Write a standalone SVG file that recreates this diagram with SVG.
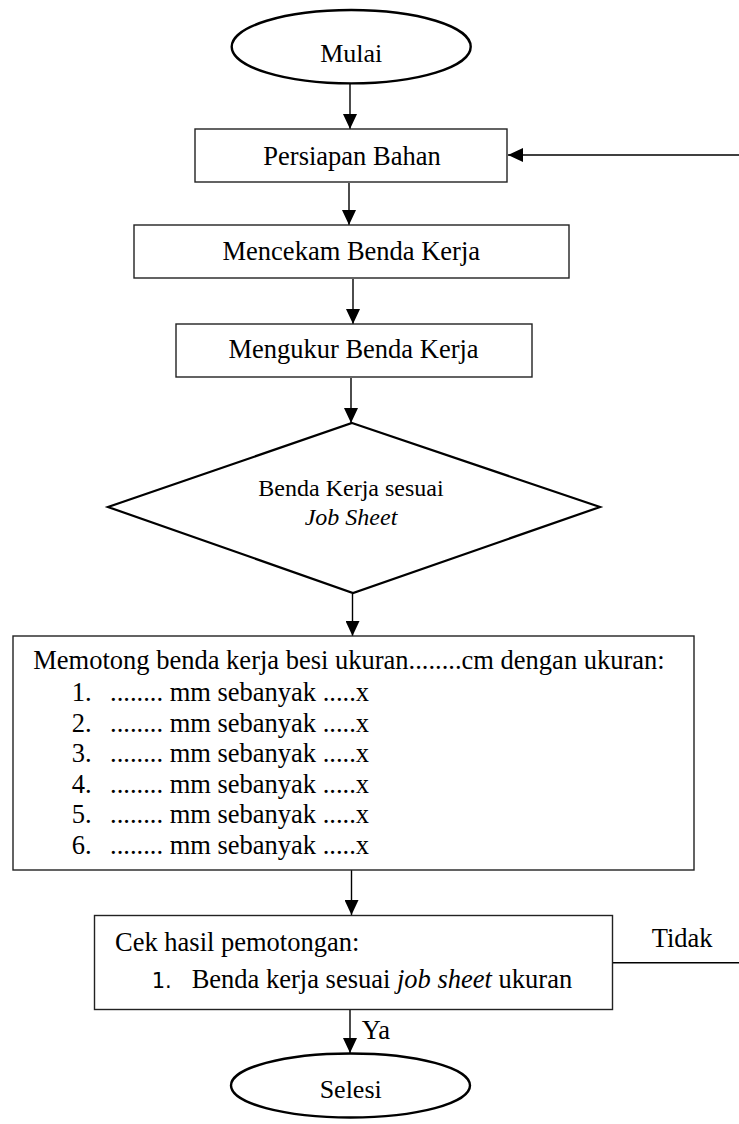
<svg xmlns="http://www.w3.org/2000/svg" width="739" height="1124" viewBox="0 0 739 1124">
<style>
  .t { font-family: "Liberation Serif", "Times New Roman", serif; font-size: 26.5px; fill: #000; }
  .c { text-anchor: middle; }
  .box { fill: #fff; stroke: #222; stroke-width: 1.4; }
  .term { fill: #fff; stroke: #000; stroke-width: 2.4; }
  .dec { fill: #fff; stroke: #000; stroke-width: 2.2; }
  .conn { fill: none; stroke: #000; stroke-width: 1.4; }
  .arr { marker-end: url(#ah); }
</style>
<defs>
  <marker id="ah" markerWidth="15" markerHeight="14" refX="15" refY="7" orient="auto" markerUnits="userSpaceOnUse">
    <path d="M0,0 L15,7 L0,14 Z" fill="#000"/>
  </marker>
</defs>
<rect width="739" height="1124" fill="#fff"/>

<g id="connectors">
  <line class="conn arr" x1="350" y1="84" x2="350" y2="129"/>
  <line class="conn arr" x1="349" y1="183" x2="349" y2="225"/>
  <line class="conn arr" x1="353" y1="279" x2="353" y2="324"/>
  <line class="conn arr" x1="351" y1="378" x2="351" y2="423"/>
  <line class="conn arr" x1="352.5" y1="594" x2="352.5" y2="636"/>
  <line class="conn arr" x1="351.5" y1="870" x2="351.5" y2="915"/>
  <line class="conn arr" x1="350" y1="1010" x2="350" y2="1053"/>
  <line class="conn" x1="612" y1="962.7" x2="739" y2="962.7"/>
  <line class="conn arr" x1="739" y1="155" x2="508" y2="155"/>
  <text class="t" x="651.7" y="946.7">Tidak</text>
  <text class="t" x="361.7" y="1039">Ya</text>
</g>

<g id="mulai">
  <ellipse class="term" cx="351.2" cy="46.7" rx="119.5" ry="36.7"/>
  <text class="t c" x="351.2" y="62" style="font-size:26px">Mulai</text>
</g>

<g id="persiapan">
  <rect class="box" x="195" y="129" width="312" height="53"/>
  <text class="t c" x="352" y="165">Persiapan Bahan</text>
</g>

<g id="mencekam">
  <rect class="box" x="134" y="225" width="435" height="53"/>
  <text class="t c" x="351.3" y="260">Mencekam Benda Kerja</text>
</g>

<g id="mengukur">
  <rect class="box" x="176" y="324" width="356" height="53"/>
  <text class="t c" x="353.5" y="358">Mengukur Benda Kerja</text>
</g>

<g id="keputusan">
  <polygon class="dec" points="352,423 600,507 353,593 108,507"/>
  <text class="t c" x="351" y="496" style="font-size:24px">Benda Kerja sesuai</text>
  <text class="t c" x="351" y="525" style="font-size:24px;font-style:italic">Job Sheet</text>
</g>

<g id="memotong">
  <rect class="box" x="13" y="636" width="681" height="234"/>
  <text class="t" x="33.3" y="669">Memotong benda kerja besi ukuran........cm dengan ukuran:</text>
  <text class="t" x="71.7" y="701">1.</text><text class="t" x="110" y="701">........ mm sebanyak .....x</text>
  <text class="t" x="71.7" y="731.6">2.</text><text class="t" x="110" y="731.6">........ mm sebanyak .....x</text>
  <text class="t" x="71.7" y="762.2">3.</text><text class="t" x="110" y="762.2">........ mm sebanyak .....x</text>
  <text class="t" x="71.7" y="792.8">4.</text><text class="t" x="110" y="792.8">........ mm sebanyak .....x</text>
  <text class="t" x="71.7" y="823.4">5.</text><text class="t" x="110" y="823.4">........ mm sebanyak .....x</text>
  <text class="t" x="71.7" y="854">6.</text><text class="t" x="110" y="854">........ mm sebanyak .....x</text>
</g>

<g id="cek">
  <rect class="box" x="94.5" y="915.5" width="518" height="94"/>
  <text class="t" x="115" y="951">Cek hasil pemotongan:</text>
  <text x="151.7" y="988" style="font-family:'DejaVu Sans',sans-serif;font-size:21px">1.</text>
  <text class="t" x="191.7" y="988">Benda kerja sesuai <tspan font-style="italic">job sheet</tspan> ukuran</text>
</g>

<g id="selesi">
  <ellipse class="term" cx="350.5" cy="1085.5" rx="119.5" ry="32"/>
  <text class="t c" x="350.7" y="1098" style="font-size:26px">Selesi</text>
</g>
</svg>
